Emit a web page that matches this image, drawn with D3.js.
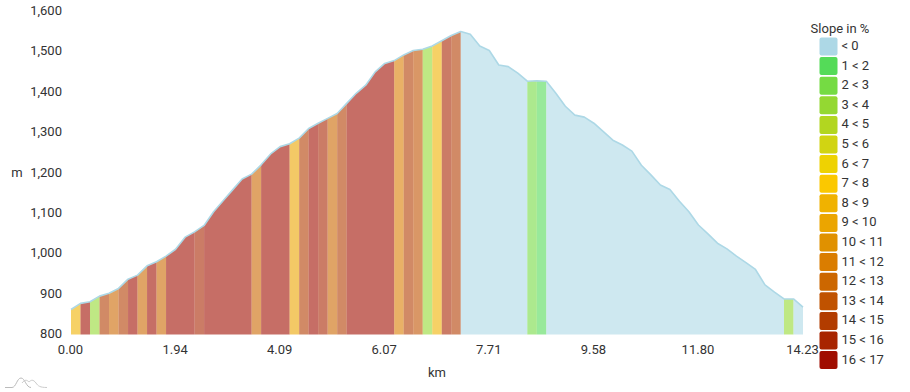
<!DOCTYPE html>
<html><head><meta charset="utf-8">
<script src="https://cdn.jsdelivr.net/npm/d3@7"></script>
<style>html,body{margin:0;padding:0;background:#fff}svg{display:block}text{font-family:Roboto,sans-serif;font-size:13px;fill:#333}</style>
</head><body><svg id="c" width="910" height="392"></svg>
<script>
const elevations=[862,877,881,895,902,914,937,947,970,980,994,1011,1041,1054,1070,1104,1131,1158,1185,1197,1220,1247,1265,1272,1286,1310,1323,1335,1347,1372,1397,1417,1450,1471,1478,1492,1503,1506,1514,1527,1540,1550,1543,1514,1503,1467,1463,1447,1427,1428,1427,1397,1365,1343,1338,1323,1302,1281,1269,1254,1219,1195,1170,1159,1130,1104,1071,1049,1026,1012,994,978,961,923,905,888,888,868];
const slopeClass=[8,16,3,14,12,14,16,12,16,12,16,16,16,15,16,16,16,16,16,12,16,16,16,9,14,16,15,12,14,16,16,16,16,16,11,14,13,3,8,15,14,0,0,0,0,0,0,0,2,1,0,0,0,0,0,0,0,0,0,0,0,0,0,0,0,0,0,0,0,0,0,0,0,0,0,3,0];
const legendLabels=["< 0","1 < 2","2 < 3","3 < 4","4 < 5","5 < 6","6 < 7","7 < 8","8 < 9","9 < 10","10 < 11","11 < 12","12 < 13","13 < 14","14 < 15","15 < 16","16 < 17"];
const legendColors=["#add8e6","#54db58","#75db43","#94d832","#b2d620","#d1d412","#eed202","#fbc800","#f0b200","#eba500","#e09100","#da7d00","#cc6700","#c05200","#b23c00","#a82500","#a00d00"];
const kmTickIndex=[0,11,22,33,44,55,66,77];
const kmTickLabels=["0.00","1.94","4.09","6.07","7.71","9.58","11.80","14.23"];
const mTicks=[800,900,1000,1100,1200,1300,1400,1500,1600];

const svg=d3.select("#c");
const x=d3.scaleLinear().domain([0,elevations.length-1]).range([71,803]);
const y=d3.scaleLinear().domain([800,1600]).range([334.5,11.3]);
const runs=[];
slopeClass.forEach((c,i)=>{
  const last=runs[runs.length-1];
  if(last&&last.c===c) last.idx.push(i+1); else runs.push({c,idx:[i,i+1]});
});
const area=d3.area().x(d=>x(d)).y0(y(800)).y1(d=>y(elevations[d]));
svg.append("g").selectAll("path").data(runs).join("path")
  .attr("d",r=>area(r.idx)).attr("fill",r=>legendColors[r.c]).attr("fill-opacity",0.6);
svg.append("path").datum(elevations.map((d,i)=>i))
  .attr("d",d3.line().x(d=>x(d)).y(d=>y(elevations[d])))
  .attr("fill","none").attr("stroke","#add8e6").attr("stroke-width",1.6).attr("stroke-linejoin","round");

const ax=svg.append("g").attr("transform","translate(-1,339)")
  .call(d3.axisBottom(x).tickValues(kmTickIndex).tickSize(0).tickPadding(6).tickFormat((d,i)=>kmTickLabels[i]));
ax.select(".domain").remove();
const ay=svg.append("g").attr("transform","translate(62,-1)")
  .call(d3.axisLeft(y).tickValues(mTicks).tickSize(0).tickPadding(0).tickFormat(d3.format(",")));
ay.select(".domain").remove();
svg.selectAll(".tick text").style("font-family","Roboto,sans-serif").style("font-size","13px").style("fill","#333");
svg.append("text").attr("x",17).attr("y",172).attr("text-anchor","middle").attr("dominant-baseline","central").text("m");
svg.append("text").attr("x",437).attr("y",372).attr("text-anchor","middle").attr("dominant-baseline","central").text("km");

const ly=d3.scaleBand().domain(legendLabels).range([37.5,37.5+19.6*17]);
svg.append("text").attr("x",840).attr("y",28).attr("text-anchor","middle").attr("dominant-baseline","central").text("Slope in %");
const lg=svg.append("g").selectAll("g").data(legendLabels).join("g").attr("transform",d=>`translate(0,${ly(d)})`);
lg.append("rect").attr("x",819.5).attr("width",18).attr("height",18).attr("rx",2).attr("fill",(d,i)=>legendColors[i]);
lg.append("text").attr("x",841.5).attr("y",8).attr("dominant-baseline","central").text(d=>d);

const logo=svg.append("g").attr("fill","none").attr("stroke","#bbb").attr("stroke-width",1);
logo.append("path").attr("d","M5 387.5H12C16 387.5 17 378 21 378C25 378 26 387.5 31 387.5");
logo.append("path").attr("stroke","#ccc").attr("d","M22 383C25 379 27 380 29 382C31 380 33 379 36 383C38 386 40 387.5 47 387.5");
</script></body></html>
